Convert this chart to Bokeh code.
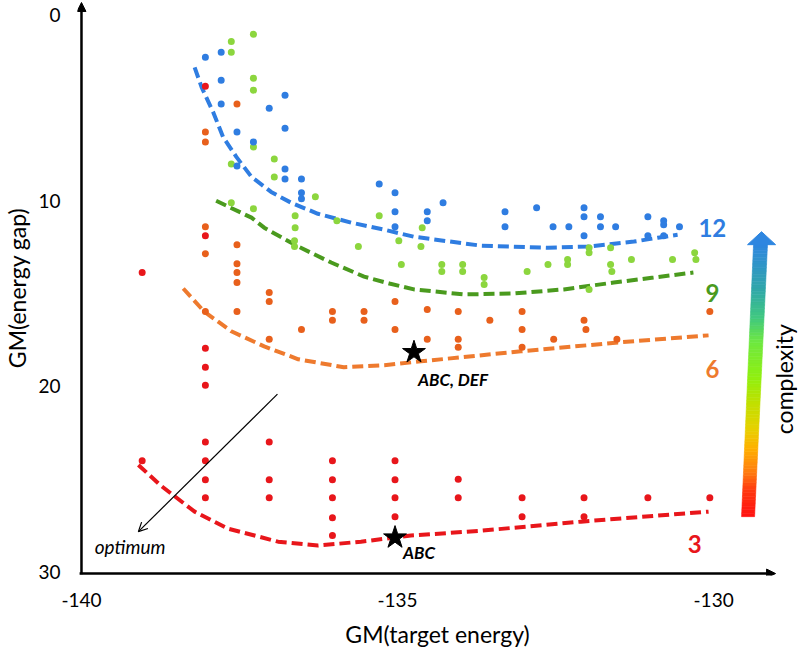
import numpy as np
from bokeh.plotting import figure
from bokeh.models import Range1d, FixedTicker, Arrow, NormalHead, OpenHead, Label
from bokeh.embed import file_html
from bokeh.resources import INLINE

# ---------------- data ----------------
x_ticks = [-140, -135, -130]
y_ticks = [0, 10, 20, 30]

blue_x = [-138.04, -137.79, -137.79, -137.79, -136.78, -137.03, -136.78, -137.54, -137.28, -137.54,
          -136.78, -136.78, -136.52, -136.52, -136.52, -135.29, -135.04, -135.04, -135.04, -134.53,
          -134.53, -134.28, -133.30, -133.30, -132.80, -132.54, -132.29, -132.05, -132.05, -132.05,
          -131.79, -131.79, -131.55, -131.04, -131.04, -130.79, -130.79, -130.79, -130.54]
blue_y = [2.26, 1.99, 3.49, 4.78, 4.30, 5.00, 6.08, 6.29, 6.83, 8.12,
          8.28, 8.82, 8.82, 9.57, 9.89, 9.09, 9.57, 10.59, 11.40, 10.59,
          11.08, 10.11, 10.59, 11.40, 10.38, 11.40, 11.40, 10.38, 10.86, 11.88,
          10.86, 11.40, 11.40, 10.86, 11.88, 11.08, 11.29, 11.88, 11.40]

lime_x = [-137.28, -137.63, -137.63, -137.28, -137.28, -137.28, -136.95, -137.63, -136.95, -136.30,
          -137.63, -137.28, -136.62, -135.96, -135.29, -136.62, -136.63, -136.63, -135.62, -134.98,
          -134.61, -134.63, -134.94, -134.30, -134.30, -133.97, -133.97, -133.63, -133.63, -132.95,
          -132.62, -132.31, -132.31, -131.97, -131.97, -131.63, -131.63, -131.61, -131.30, -131.97,
          -130.65, -130.30, -130.28]
lime_y = [1.02, 1.40, 1.99, 3.39, 4.03, 7.10, 7.74, 8.01, 8.71, 9.78,
          10.11, 10.43, 10.81, 11.08, 10.81, 11.45, 12.15, 12.47, 12.47, 12.15,
          11.45, 12.47, 13.44, 13.44, 13.82, 13.44, 13.82, 14.14, 14.52, 13.82,
          13.44, 13.17, 13.44, 12.53, 12.80, 12.53, 13.44, 13.82, 13.17, 14.78,
          13.17, 12.80, 13.17]

orange_x = [-137.54, -138.04, -138.04, -138.04, -137.54, -138.04, -137.54, -137.54, -137.54, -137.03,
            -137.03, -138.04, -137.54, -136.03, -136.03, -135.53, -135.53, -136.52, -137.03, -135.04,
            -135.04, -134.53, -134.53, -134.04, -134.04, -134.04, -133.54, -133.03, -133.03, -133.03,
            -132.53, -132.05, -132.02, -131.53, -130.06]
orange_y = [4.78, 6.29, 6.83, 11.40, 12.37, 12.85, 13.39, 13.87, 14.41, 14.95,
            15.43, 15.97, 15.97, 15.97, 16.45, 15.97, 16.45, 16.94, 17.47, 15.43,
            16.94, 15.86, 17.47, 15.97, 17.47, 17.90, 16.45, 15.97, 16.94, 17.90,
            17.47, 16.45, 16.94, 17.47, 15.97]

red_x = [-138.04, -138.04, -139.04, -138.04, -138.04, -138.04, -138.04, -138.04, -138.04, -138.04,
         -137.03, -137.03, -137.03, -139.04, -136.03, -136.03, -136.03, -136.03, -136.03, -135.04,
         -135.04, -135.04, -135.04, -134.04, -134.04, -133.03, -133.03, -132.05, -132.05, -131.04,
         -130.06]
red_y = [3.82, 11.88, 13.87, 17.96, 18.98, 19.95, 23.01, 24.03, 25.05, 26.02,
         23.01, 25.05, 26.02, 24.03, 24.03, 25.05, 26.02, 27.10, 28.06, 24.03,
         25.05, 26.02, 27.04, 25.02, 26.02, 26.02, 27.04, 26.02, 27.04, 26.02,
         26.02]

# dashed trend curves
c12_x = [-138.21, -138.10, -137.91, -137.76, -137.55, -137.31, -137.00, -136.68, -136.26, -135.73,
         -135.21, -134.74, -133.68, -132.62, -131.99, -131.26, -130.88, -130.57]
c12_y = [2.80, 3.87, 5.27, 6.56, 7.63, 8.71, 9.52, 10.11, 10.70, 11.18,
         11.56, 11.94, 12.42, 12.53, 12.47, 12.20, 11.99, 11.83]
c9_x = [-137.87, -137.31, -137.11, -136.57, -136.05, -135.53, -135.13, -134.74, -133.95, -133.16,
        -132.37, -131.58, -130.95, -130.32]
c9_y = [10.00, 10.91, 11.45, 12.47, 13.33, 14.09, 14.46, 14.78, 15.05, 15.00,
        14.78, 14.41, 14.14, 13.87]
c6_x = [-138.39, -138.06, -137.63, -137.11, -136.57, -135.85, -135.21, -134.63, -133.05, -131.47, -130.08]
c6_y = [14.73, 15.97, 17.04, 17.85, 18.55, 18.98, 18.87, 18.66, 18.12, 17.63, 17.26]
c3_x = [-139.10, -138.74, -138.21, -137.68, -136.89, -136.26, -135.58, -134.79, -133.68, -132.10, -130.08]
c3_y = [24.25, 25.38, 26.77, 27.69, 28.39, 28.60, 28.39, 28.06, 27.80, 27.31, 26.77]

star_x = [-134.74, -135.04]
star_y = [18.17, 28.17]
star_labels = ["ABC, DEF", "ABC"]

# ---------------- styling ----------------
FONT = "Lato"
C_BLUE = "#2F7DE1"
C_LIME = "#8CD63E"
C_GREEN = "#4A9A1E"
C_ORANGE_DOT = "#E8601C"
C_ORANGE = "#EE7A2E"
C_RED = "#E8161B"

p = figure(width=798, height=650, output_backend="svg", toolbar_location=None,
           x_range=Range1d(-140.063, -128.673), y_range=Range1d(30.215, -0.807),
           min_border_left=76, min_border_right=1, min_border_top=0, min_border_bottom=73)
p.outline_line_color = None
p.grid.visible = False
p.background_fill_color = "white"

p.xaxis.ticker = FixedTicker(ticks=x_ticks)
p.yaxis.ticker = FixedTicker(ticks=y_ticks)
p.xaxis.major_label_overrides = {t: str(t) for t in x_ticks}
for ax in (p.xaxis, p.yaxis):
    ax.axis_line_color = None
    ax.major_tick_line_color = None
    ax.minor_tick_line_color = None
    ax.major_label_text_font = FONT
    ax.major_label_text_font_size = "19px"
    ax.major_label_text_color = "black"
    ax.axis_label_text_font = FONT
    ax.axis_label_text_font_size = "23px"
    ax.axis_label_text_font_style = "normal"
    ax.axis_label_text_color = "black"
p.xaxis.axis_label = "GM(target energy)"
p.yaxis.axis_label = "GM(energy gap)"
p.xaxis.major_label_standoff = 11
p.xaxis.axis_label_standoff = 10
p.yaxis.major_label_standoff = 11
p.yaxis.axis_label_standoff = 4

# axis arrows
p.add_layout(Arrow(end=NormalHead(size=9, fill_color="black", line_color="black"),
                   x_start=-140.03, y_start=30.11, x_end=-129.02, y_end=30.11,
                   line_width=2.5, line_color="black"))
p.add_layout(Arrow(end=NormalHead(size=9, fill_color="black", line_color="black"),
                   x_start=-140.0, y_start=30.15, x_end=-140.0, y_end=-0.70,
                   line_width=2.5, line_color="black"))

# dashed curves
dash = "11 5"
p.line(c12_x, c12_y, line_color=C_BLUE, line_width=4, line_dash=dash)
p.line(c9_x, c9_y, line_color=C_GREEN, line_width=4, line_dash=dash)
p.line(c6_x, c6_y, line_color=C_ORANGE, line_width=4, line_dash=dash)
p.line(c3_x, c3_y, line_color=C_RED, line_width=4, line_dash=dash)

# dots
p.scatter(red_x, red_y, size=7, fill_color=C_RED, line_color=None)
p.scatter(orange_x, orange_y, size=7, fill_color=C_ORANGE_DOT, line_color=None)
p.scatter(lime_x, lime_y, size=7, fill_color=C_LIME, line_color=None)
p.scatter(blue_x, blue_y, size=7, fill_color=C_BLUE, line_color=None)

# stars
p.scatter(star_x, star_y, marker="star", size=24, fill_color="black", line_color="black")
p.add_layout(Label(x=star_x[0], y=star_y[0], text=star_labels[0], x_offset=4, y_offset=-27,
                   text_font=FONT, text_font_size="17px", text_font_style="bold italic",
                   text_baseline="middle", text_align="left", text_color="black"))
p.add_layout(Label(x=star_x[1], y=star_y[1], text=star_labels[1], x_offset=8, y_offset=-15,
                   text_font=FONT, text_font_size="17px", text_font_style="bold italic",
                   text_baseline="middle", text_align="left", text_color="black"))

# optimum arrow
p.add_layout(Arrow(end=OpenHead(size=9, line_width=1.2, line_color="black"),
                   x_start=-136.90, y_start=20.43, x_end=-139.10, y_end=27.85,
                   line_width=1.2, line_color="black"))
p.add_layout(Label(x=-139.79, y=28.66, text="optimum", text_font=FONT, text_font_size="19px",
                   text_font_style="italic", text_baseline="middle", text_align="left",
                   text_color="black"))

# complexity level numbers
for txt, yy, col in [("12", 11.45, C_BLUE), ("9", 14.95, C_GREEN), ("6", 19.09, C_ORANGE)]:
    p.add_layout(Label(x=-130.02, y=yy, text=txt, text_font=FONT, text_font_size="24px",
                       text_font_style="bold", text_color=col, text_align="center",
                       text_baseline="middle"))
p.add_layout(Label(x=-130.30, y=28.49, text="3", text_font=FONT, text_font_size="24px",
                   text_font_style="bold", text_color=C_RED, text_align="center",
                   text_baseline="middle"))

# gradient "complexity" arrow (decoration)
stops_t = [0.0, 0.10, 0.16, 0.25, 0.32, 0.42, 0.51, 0.64, 0.73, 0.83, 0.95, 1.0]
stops_c = ["#FF1010", "#FF3A10", "#FF7A10", "#FFB000", "#E8D000", "#BFE000", "#90F010",
           "#6EE840", "#40C880", "#30A8A8", "#3090D0", "#2E86E0"]
rgb = np.array([[int(c[i:i + 2], 16) for i in (1, 3, 5)] for c in stops_c], dtype=float)
y_bot, y_top = 27.04, 12.31
xl_bot, xr_bot, xl_top, xr_top = -129.558, -129.352, -129.368, -129.147
n = 80
ts = np.linspace(0, 1, n + 1)
xs, ys, cols = [], [], []
for i in range(n):
    t0, t1 = ts[i], ts[i + 1]
    ya, yb = y_bot + (y_top - y_bot) * t0, y_bot + (y_top - y_bot) * t1
    la, lb = xl_bot + (xl_top - xl_bot) * t0, xl_bot + (xl_top - xl_bot) * t1
    ra, rb = xr_bot + (xr_top - xr_bot) * t0, xr_bot + (xr_top - xr_bot) * t1
    xs.append([la, ra, rb, lb])
    ys.append([ya, ya, yb, yb])
    tm = (t0 + t1) / 2
    c = [np.interp(tm, stops_t, rgb[:, k]) for k in range(3)]
    cols.append("#%02x%02x%02x" % tuple(int(round(v)) for v in c))
p.patches(xs, ys, fill_color=cols, line_color=cols, line_width=0.6)
p.patch([-129.463, -129.242, -129.020], [12.366, 11.667, 12.366],
        fill_color="#2E86E0", line_color="#2E86E0")
p.add_layout(Label(x=-128.88, y=19.62, text="complexity", angle=np.pi / 2,
                   text_font=FONT, text_font_size="23px", text_color="black",
                   text_align="center", text_baseline="middle"))

open("out.html", "w").write(file_html(p, INLINE))
